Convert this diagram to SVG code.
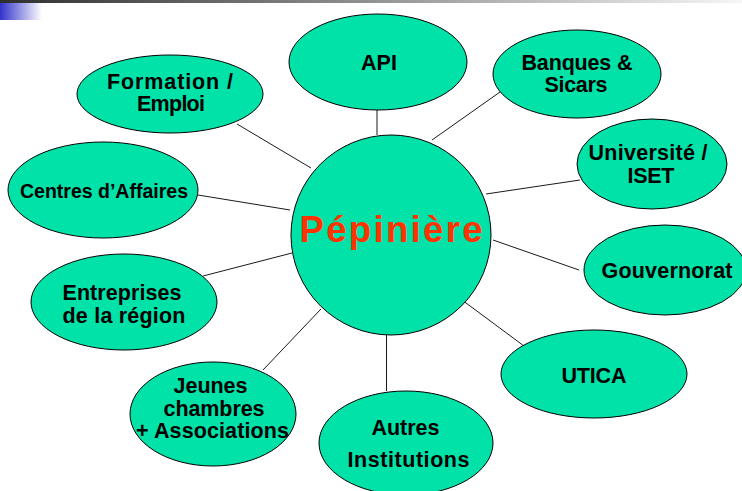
<svg xmlns="http://www.w3.org/2000/svg" width="742" height="491" viewBox="0 0 742 491">
<defs>
<linearGradient id="bar" x1="0" y1="0" x2="1" y2="0">
<stop offset="0" stop-color="#2e2e2e"/>
<stop offset="1" stop-color="#f6f6f6"/>
</linearGradient>
<linearGradient id="blue" x1="0" y1="0" x2="1" y2="0">
<stop offset="0" stop-color="#3333cc"/>
<stop offset="1" stop-color="#ffffff"/>
</linearGradient>
<style>
.n{fill:#00e2a8;stroke:#000;stroke-width:1}
.t{font-family:"Liberation Sans",Arial,sans-serif;font-weight:bold;font-size:21.5px;fill:#000;text-anchor:middle}
.c{stroke:#1a1a1a;stroke-width:1;fill:none}
.big{font-family:"Liberation Sans",Arial,sans-serif;font-weight:bold;font-size:36.5px;fill:#ff3300;text-anchor:middle}
</style>
</defs>
<rect width="742" height="491" fill="#fff"/>
<rect x="0" y="0" width="742" height="3" fill="url(#bar)"/>
<rect x="0" y="3" width="42" height="17" fill="url(#blue)"/>
<g id="connectors">
<line class="c" x1="237" y1="124" x2="311" y2="168"/>
<line class="c" x1="377" y1="110" x2="377" y2="135"/>
<line class="c" x1="500" y1="92" x2="432" y2="140"/>
<line class="c" x1="580" y1="180" x2="486" y2="194"/>
<line class="c" x1="493" y1="240" x2="579" y2="270"/>
<line class="c" x1="462" y1="300" x2="524" y2="346"/>
<line class="c" x1="386.5" y1="335" x2="386.5" y2="391"/>
<line class="c" x1="263" y1="370" x2="321" y2="309"/>
<line class="c" x1="203" y1="276" x2="292" y2="253"/>
<line class="c" x1="198" y1="195" x2="290" y2="210"/>
</g>
<g id="formation">
<ellipse class="n" cx="170" cy="94" rx="93" ry="39"/>
<text class="t" x="170" y="89" textLength="126" lengthAdjust="spacing">Formation /</text>
<text class="t" x="171" y="111" textLength="68" lengthAdjust="spacing">Emploi</text>
</g>
<g id="api">
<ellipse class="n" cx="378" cy="62" rx="89" ry="48"/>
<text class="t" x="379" y="70" textLength="36" lengthAdjust="spacing">API</text>
</g>
<g id="banques">
<ellipse class="n" cx="577" cy="74" rx="84" ry="44"/>
<text class="t" x="577" y="70" textLength="111" lengthAdjust="spacing">Banques &amp;</text>
<text class="t" x="576" y="92" textLength="63" lengthAdjust="spacing">Sicars</text>
</g>
<g id="universite">
<ellipse class="n" cx="652" cy="164" rx="75" ry="45"/>
<text class="t" x="648" y="160" textLength="119" lengthAdjust="spacing">Université /</text>
<text class="t" x="651" y="183" textLength="47" lengthAdjust="spacing">ISET</text>
</g>
<g id="centres">
<ellipse class="n" cx="103" cy="190" rx="95" ry="48"/>
<text class="t" x="104" y="197.5" style="font-size:19.5px" textLength="168" lengthAdjust="spacing">Centres d’Affaires</text>
</g>
<g id="gouvernorat">
<ellipse class="n" cx="665" cy="270" rx="81" ry="45"/>
<text class="t" x="667" y="278" textLength="131" lengthAdjust="spacing">Gouvernorat</text>
</g>
<g id="entreprises">
<ellipse class="n" cx="124" cy="302" rx="93" ry="48"/>
<text class="t" x="122" y="300" textLength="119" lengthAdjust="spacing">Entreprises</text>
<text class="t" x="124" y="322.5" textLength="123" lengthAdjust="spacing">de la région</text>
</g>
<g id="utica">
<ellipse class="n" cx="594" cy="374" rx="93" ry="44"/>
<text class="t" x="594" y="383" textLength="65" lengthAdjust="spacing">UTICA</text>
</g>
<g id="jeunes">
<ellipse class="n" cx="213" cy="414" rx="83" ry="52"/>
<text class="t" x="210.5" y="393" textLength="74" lengthAdjust="spacing">Jeunes</text>
<text class="t" x="214" y="416" textLength="101" lengthAdjust="spacing">chambres</text>
<text class="t" x="212.5" y="438" textLength="153" lengthAdjust="spacing">+ Associations</text>
</g>
<g id="autres">
<ellipse class="n" cx="406" cy="443" rx="87" ry="52"/>
<text class="t" x="405.5" y="435" textLength="68" lengthAdjust="spacing">Autres</text>
<text class="t" x="408.5" y="467" textLength="122" lengthAdjust="spacing">Institutions</text>
</g>
<g id="pepiniere">
<circle class="n" cx="391" cy="235" r="100"/>
<text class="big" x="391" y="242" textLength="183" lengthAdjust="spacing">Pépinière</text>
</g>
</svg>
